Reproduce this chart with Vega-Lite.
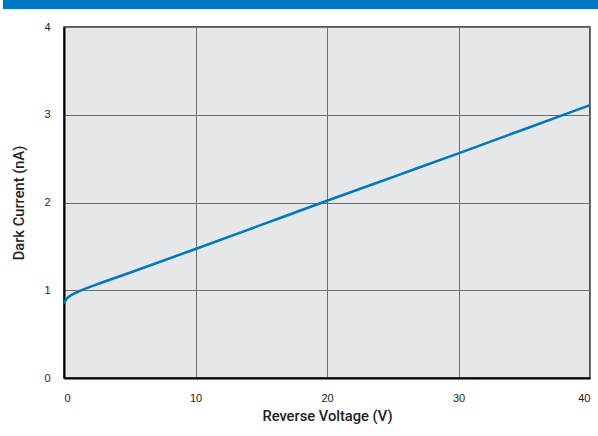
{
  "$schema": "https://vega.github.io/schema/vega-lite/v6.json",
  "padding": 0,
  "spacing": 11,
  "background": "white",
  "config": {
    "font": "Liberation Sans",
    "view": {"stroke": "#222222", "strokeWidth": 1}
  },
  "vconcat": [
    {
      "width": 598,
      "height": 9,
      "data": {"values": [{}]},
      "view": {"fill": "#0077c0", "stroke": null},
      "mark": {"type": "point", "opacity": 0},
      "encoding": {}
    },
    {
      "spacing": 4,
      "hconcat": [
        {
          "width": 1,
          "height": 1,
          "data": {"values": [{}]},
          "view": {"fill": null, "stroke": null},
          "mark": {"type": "point", "opacity": 0},
          "encoding": {}
        },
        {
          "width": 526,
          "height": 351,
          "data": {"values": [
            {"v": 0, "i": 0.85},
            {"v": 0.1, "i": 0.88},
            {"v": 0.25, "i": 0.91},
            {"v": 0.5, "i": 0.94},
            {"v": 0.9, "i": 0.97},
            {"v": 1.4, "i": 1.005},
            {"v": 2.5, "i": 1.067},
            {"v": 5, "i": 1.2},
            {"v": 10, "i": 1.47},
            {"v": 15, "i": 1.745},
            {"v": 20, "i": 2.02},
            {"v": 25, "i": 2.29},
            {"v": 30, "i": 2.56},
            {"v": 35, "i": 2.835},
            {"v": 40, "i": 3.11}
          ]},
          "view": {"fill": "#e6e7e8", "stroke": "#222222", "strokeWidth": 1.5},
          "mark": {"type": "line", "color": "#0077c0", "strokeWidth": 2.5, "interpolate": "monotone"},
          "encoding": {
            "x": {
              "field": "v", "type": "quantitative",
              "scale": {"domain": [0, 40], "nice": false},
              "axis": {
                "title": "Reverse Voltage (V)", "values": [0, 10, 20, 30, 40],
                "grid": true, "gridColor": "#6d6e71", "gridWidth": 1, "gridOpacity": 1,
                "domainColor": "#000000", "domainWidth": 2,
                "ticks": false, "labelPadding": 14, "labelFontSize": 11, "labelColor": "#222222",
                "titleFont": "Roboto", "titleFontSize": 14.7, "titleFontWeight": 500, "titleColor": "#222222", "titlePadding": 5
              }
            },
            "y": {
              "field": "i", "type": "quantitative",
              "scale": {"domain": [0, 4], "nice": false},
              "axis": {
                "title": "Dark Current (nA)", "values": [0, 1, 2, 3, 4],
                "grid": true, "gridColor": "#6d6e71", "gridWidth": 1, "gridOpacity": 1,
                "domainColor": "#000000", "domainWidth": 2,
                "ticks": false, "labelPadding": 14, "labelFontSize": 11, "labelColor": "#222222",
                "titleFont": "Roboto", "titleFontSize": 14.7, "titleFontWeight": 500, "titleColor": "#222222", "titlePadding": 17
              }
            }
          }
        }
      ]
    }
  ]
}
